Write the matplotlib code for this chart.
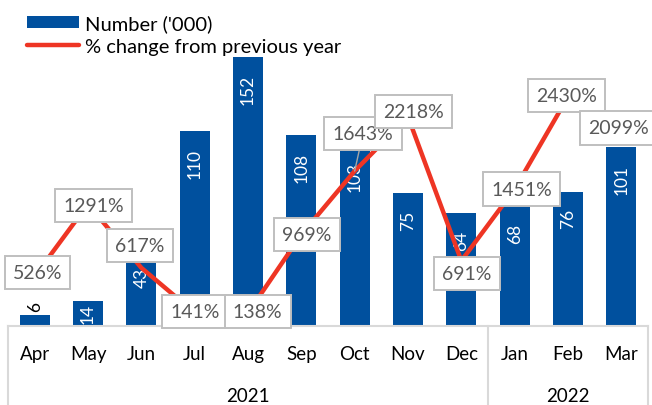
import matplotlib
matplotlib.use("Agg")
import matplotlib.pyplot as plt
from matplotlib.lines import Line2D

plt.rcParams["font.family"] = ["Lato", "DejaVu Sans"]

months = ["Apr", "May", "Jun", "Jul", "Aug", "Sep", "Oct", "Nov", "Dec", "Jan", "Feb", "Mar"]
years = ["2021", "2022"]
year_sizes = [9, 3]
number = [6, 14, 43, 110, 152, 108, 103, 75, 64, 68, 76, 101]
pct_change = [526, 1291, 617, 141, 138, 969, 1643, 2218, 691, 1451, 2430, 2099]

# label offsets (points) -- placement tweaks only
bar_lab_off = [3, -1.5, -12, -12, -12, -12, -12, -12, -12, -12, -12, -12]
pct_lab_off = [(2, 3), (4, -1), (-1, 16), (0, 1), (7, 1), (4, 0),
               (6, 27), (4, 4), (4, -9), (5, 0), (-1, 1), (-2, 0)]

blue = "#00509E"
red = "#EE3524"

fig = plt.figure(figsize=(6.52, 4.06), dpi=100)
ax = fig.add_axes([8 / 652, 79 / 406, 640 / 652, 283 / 406])
x = list(range(len(months)))

bars = ax.bar(x, number, width=0.56, color=blue, label="Number ('000)", zorder=2)
ax.set_xlim(-0.5, 11.5)
ax.set_ylim(0, 160)
for s in ["top", "left", "right"]:
    ax.spines[s].set_visible(False)
ax.spines["bottom"].set_color("#D9D9D9")
ax.spines["bottom"].set_linewidth(1.5)
ax.set_yticks([])
ax.set_xticks(x)
ax.set_xticklabels(months, fontsize=13.5)
ax.tick_params(axis="x", length=0, pad=14)

for i, v in enumerate(number):
    off = bar_lab_off[i]
    ax.annotate(str(v), (i, v), xytext=(0, off), textcoords="offset points",
                ha="center", va="bottom" if off > 0 else "top", rotation=90,
                fontsize=12.5, color="black" if off > 0 else "white", zorder=3)

# group separators and year labels
trans = ax.get_xaxis_transform()
start = -0.5
for name, n in zip(years, year_sizes):
    ax.text(start + n / 2, -70 / 283, name, transform=trans, ha="center",
            va="center", fontsize=13.5)
    start += n
for xs in [-0.5, 8.5, 11.5]:
    ax.add_line(Line2D([xs, xs], [0, -79 / 283], transform=trans, color="#D9D9D9",
                       lw=1.5, clip_on=False))

ax2 = ax.twinx()
ax2.set_ylim(0, 3000)
ax2.axis("off")
ax2.plot(x, pct_change, color=red, lw=3.2, label="% change from previous year",
         solid_capstyle="round", zorder=2)
for i, v in enumerate(pct_change):
    dx, dy = pct_lab_off[i]
    kw = {}
    if i == 6:
        kw["arrowprops"] = dict(arrowstyle="-", color="#A6A6A6", lw=1, shrinkA=0, shrinkB=0)
    ax2.annotate(f"{v}%", (i, v), xytext=(dx, dy), textcoords="offset points",
                 ha="center", va="center", fontsize=14, color="#595959", zorder=4,
                 bbox=dict(boxstyle="square,pad=0.42", fc="white", ec="#BFBFBF", lw=1.4),
                 annotation_clip=False, **kw)

handles = [bars, Line2D([], [], color=red, lw=3.2, solid_capstyle="round")]
labels = ["Number ('000)", "% change from previous year"]
fig.legend(handles, labels, loc="upper left", bbox_to_anchor=(27 / 652, 1 - 15 / 406),
           frameon=False, fontsize=14.5, handlelength=2.6, handleheight=0.55,
           handletextpad=0.3, labelspacing=0.3, borderpad=0, borderaxespad=0)

fig.savefig("out.png", dpi=100)
